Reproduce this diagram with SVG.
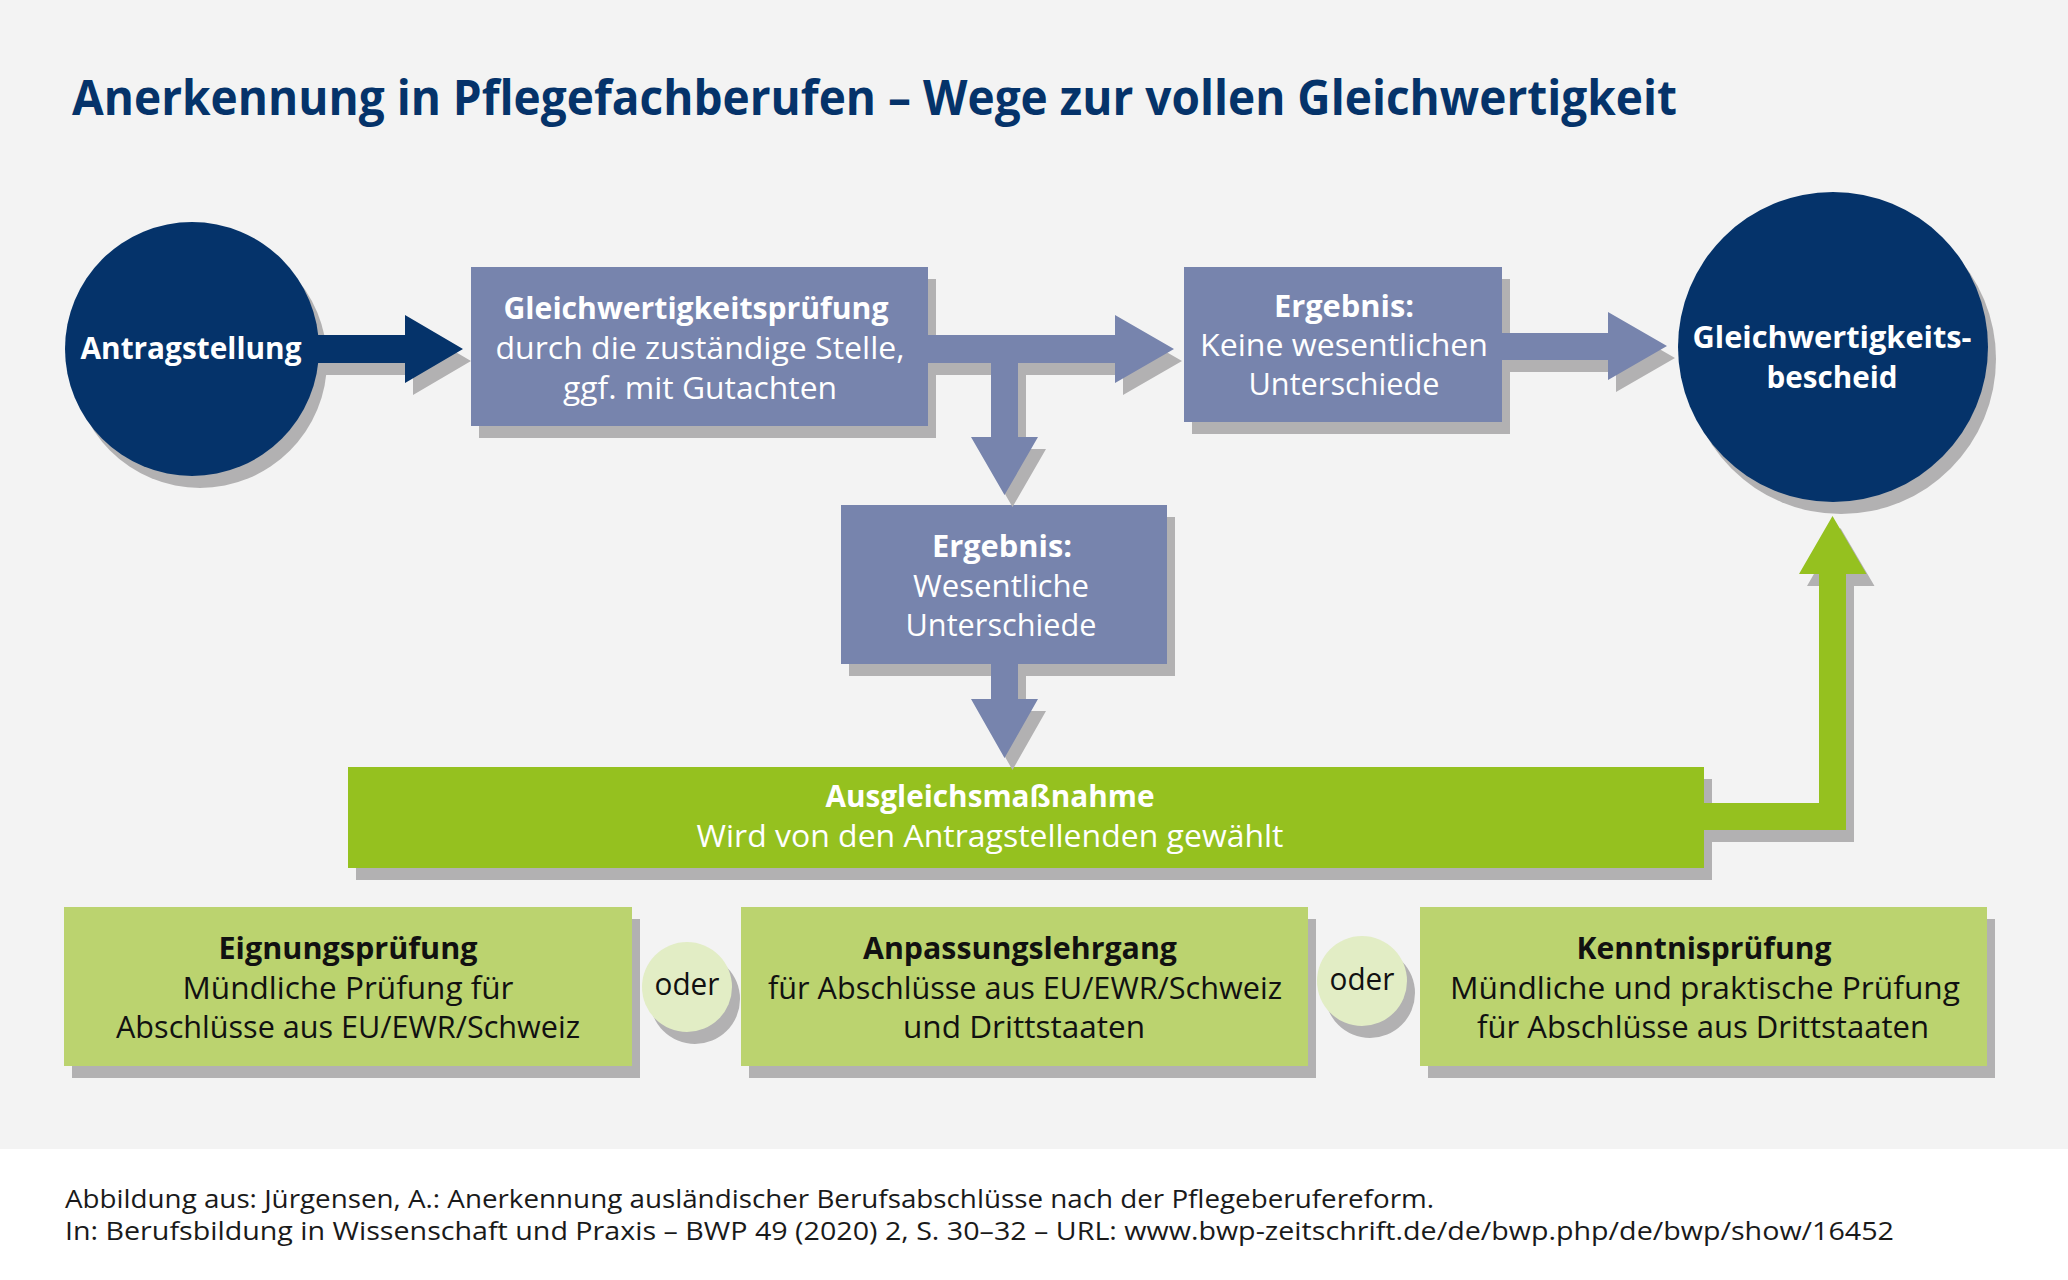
<svg xmlns="http://www.w3.org/2000/svg" width="2068" height="1280" viewBox="0 0 2068 1280">
<style>
.bg{fill:#f3f3f3}
.sh{fill:#b2b1b2}
.navy{fill:#05336a}
.slate{fill:#7784ad}
.green{fill:#95c11f}
.lgreen{fill:#bbd36f}
.oder{fill:#e2edc5}
text{font-family:"Open Sans","Liberation Sans",sans-serif;text-anchor:middle}
.title{font-size:48px;font-weight:700;fill:#05336a;text-anchor:start}
.w{fill:#ffffff;font-size:31.5px}
.k{fill:#111111;font-size:31.5px}
.b{font-weight:700;font-size:30px}
.foot{font-size:26px;fill:#1a1a1a;text-anchor:start}
</style>
<rect x="0" y="0" width="2068" height="1280" fill="#ffffff"/>
<rect class="bg" x="0" y="0" width="2068" height="1149"/>
<text class="title" x="72" y="115" textLength="1605" lengthAdjust="spacingAndGlyphs">Anerkennung in Pflegefachberufen – Wege zur vollen Gleichwertigkeit</text>

<g id="antragstellung">
<circle class="sh" cx="200" cy="361" r="127"/>
<circle class="navy" cx="192" cy="349" r="127"/>
<text class="w b" x="191" y="359" textLength="221" lengthAdjust="spacingAndGlyphs">Antragstellung</text>
</g>

<g id="gleichwertigkeitspruefung">
<rect class="sh" x="479" y="279" width="457" height="159"/>
<rect class="slate" x="471" y="267" width="457" height="159"/>
<text class="w b" x="696" y="319" textLength="385" lengthAdjust="spacingAndGlyphs">Gleichwertigkeitsprüfung</text>
<text class="w" x="700" y="359" textLength="409" lengthAdjust="spacingAndGlyphs">durch die zuständige Stelle,</text>
<text class="w" x="700" y="399" textLength="274" lengthAdjust="spacingAndGlyphs">ggf. mit Gutachten</text>
</g>

<g id="ergebnis-keine">
<rect class="sh" x="1192" y="279" width="318" height="155"/>
<rect class="slate" x="1184" y="267" width="318" height="155"/>
<text class="w b" x="1344" y="317" textLength="140" lengthAdjust="spacingAndGlyphs">Ergebnis:</text>
<text class="w" x="1344" y="356" textLength="288" lengthAdjust="spacingAndGlyphs">Keine wesentlichen</text>
<text class="w" x="1344" y="395" textLength="191" lengthAdjust="spacingAndGlyphs">Unterschiede</text>
</g>

<g id="bescheid">
<circle class="sh" cx="1841" cy="359" r="155"/>
<circle class="navy" cx="1833" cy="347" r="155"/>
<text class="w b" x="1832" y="348" textLength="279" lengthAdjust="spacingAndGlyphs">Gleichwertigkeits-</text>
<text class="w b" x="1832" y="388" textLength="131" lengthAdjust="spacingAndGlyphs">bescheid</text>
</g>

<g id="ergebnis-wesentlich">
<rect class="sh" x="849" y="517" width="326" height="159"/>
<rect class="slate" x="841" y="505" width="326" height="159"/>
<text class="w b" x="1002" y="557" textLength="140" lengthAdjust="spacingAndGlyphs">Ergebnis:</text>
<text class="w" x="1001" y="597" textLength="176" lengthAdjust="spacingAndGlyphs">Wesentliche</text>
<text class="w" x="1001" y="636" textLength="191" lengthAdjust="spacingAndGlyphs">Unterschiede</text>
</g>

<g id="ausgleichsmassnahme">
<rect class="sh" x="356" y="779" width="1356" height="101"/>
<rect class="green" x="348" y="767" width="1356" height="101"/>
<text class="w b" x="990" y="807" textLength="329" lengthAdjust="spacingAndGlyphs">Ausgleichsmaßnahme</text>
<text class="w" x="990" y="847" textLength="587" lengthAdjust="spacingAndGlyphs">Wird von den Antragstellenden gewählt</text>
</g>

<g id="eignungspruefung">
<rect class="sh" x="72" y="919" width="568" height="159"/>
<rect class="lgreen" x="64" y="907" width="568" height="159"/>
<text class="k b" x="348" y="959" textLength="259" lengthAdjust="spacingAndGlyphs">Eignungsprüfung</text>
<text class="k" x="348" y="999" textLength="331" lengthAdjust="spacingAndGlyphs">Mündliche Prüfung für</text>
<text class="k" x="348" y="1038" textLength="464" lengthAdjust="spacingAndGlyphs">Abschlüsse aus EU/EWR/Schweiz</text>
</g>

<g id="oder-1">
<circle class="sh" cx="695" cy="999" r="45"/>
<circle class="oder" cx="687" cy="987" r="45"/>
<text class="k" x="687" y="995" textLength="65" lengthAdjust="spacingAndGlyphs">oder</text>
</g>

<g id="anpassungslehrgang">
<rect class="sh" x="749" y="919" width="567" height="159"/>
<rect class="lgreen" x="741" y="907" width="567" height="159"/>
<text class="k b" x="1020" y="959" textLength="314" lengthAdjust="spacingAndGlyphs">Anpassungslehrgang</text>
<text class="k" x="1025" y="999" textLength="514" lengthAdjust="spacingAndGlyphs">für Abschlüsse aus EU/EWR/Schweiz</text>
<text class="k" x="1024" y="1038" textLength="242" lengthAdjust="spacingAndGlyphs">und Drittstaaten</text>
</g>

<g id="oder-2">
<circle class="sh" cx="1370" cy="993" r="45"/>
<circle class="oder" cx="1362" cy="981" r="45"/>
<text class="k" x="1362" y="990" textLength="65" lengthAdjust="spacingAndGlyphs">oder</text>
</g>

<g id="kenntnispruefung">
<rect class="sh" x="1428" y="919" width="567" height="159"/>
<rect class="lgreen" x="1420" y="907" width="567" height="159"/>
<text class="k b" x="1704" y="959" textLength="255" lengthAdjust="spacingAndGlyphs">Kenntnisprüfung</text>
<text class="k" x="1705" y="999" textLength="510" lengthAdjust="spacingAndGlyphs">Mündliche und praktische Prüfung</text>
<text class="k" x="1703" y="1038" textLength="452" lengthAdjust="spacingAndGlyphs">für Abschlüsse aus Drittstaaten</text>
</g>

<g id="connectors">
<g transform="translate(8,12)" class="sh">
<polygon points="316,335 405,335 405,315 463,349 405,383 405,363 316,363"/>
<polygon points="928,335 1115,335 1115,315 1174,349 1115,383 1115,363 1018,363 1018,437 1038,437 1004.5,495 971,437 991,437 991,363 928,363"/>
<polygon points="991,664 1018,664 1018,699 1038,699 1004.5,758 971,699 991,699"/>
<polygon points="1502,333 1608,333 1608,312 1667,346 1608,380 1608,360 1502,360"/>
<polygon points="1704,803 1819,803 1819,574 1799,574 1832.5,516 1866.5,574 1846,574 1846,830 1704,830"/>
</g>
<polygon class="navy" points="316,335 405,335 405,315 463,349 405,383 405,363 316,363"/>
<polygon class="slate" points="928,335 1115,335 1115,315 1174,349 1115,383 1115,363 1018,363 1018,437 1038,437 1004.5,495 971,437 991,437 991,363 928,363"/>
<polygon class="slate" points="991,664 1018,664 1018,699 1038,699 1004.5,758 971,699 991,699"/>
<polygon class="slate" points="1502,333 1608,333 1608,312 1667,346 1608,380 1608,360 1502,360"/>
<polygon class="green" points="1704,803 1819,803 1819,574 1799,574 1832.5,516 1866.5,574 1846,574 1846,830 1704,830"/>
</g>

<text class="foot" x="65" y="1208" textLength="1369" lengthAdjust="spacingAndGlyphs">Abbildung aus: Jürgensen, A.: Anerkennung ausländischer Berufsabschlüsse nach der Pflegeberufereform.</text>
<text class="foot" x="65" y="1240" textLength="1829" lengthAdjust="spacingAndGlyphs">In: Berufsbildung in Wissenschaft und Praxis – BWP 49 (2020) 2, S. 30–32 – URL: www.bwp-zeitschrift.de/de/bwp.php/de/bwp/show/16452</text>
</svg>
